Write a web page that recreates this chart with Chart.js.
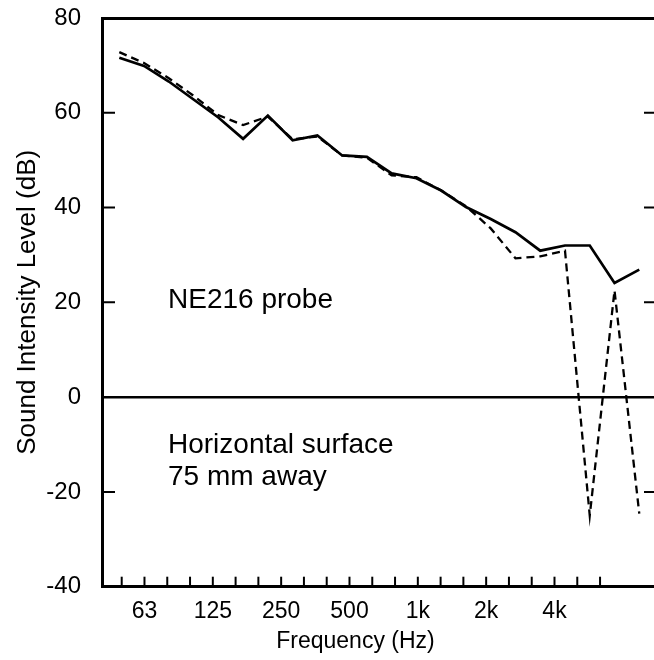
<!DOCTYPE html>
<html>
<head>
<meta charset="utf-8">
<script src="https://cdn.jsdelivr.net/npm/chart.js@4"></script>
<style>
  html, body { margin: 0; padding: 0; overflow: hidden; background: #fff; }
  #wrap { width: 662px; height: 660px; }
</style>
</head>
<body>
<div id="wrap"><canvas id="intensityChart"></canvas></div>
<script>
// one-third octave bands, 50 Hz .. 6.3 kHz
const bandLabels = ["50", "63", "80", "100", "125", "160", "200", "250", "315", "400", "500",
  "630", "800", "1k", "1.25k", "1.6k", "2k", "2.5k", "3.15k", "4k", "5k", "6.3k"];
const shownLabels = ["63", "125", "250", "500", "1k", "2k", "4k"];

// sound intensity level (dB) per band
const solidLevels = [71.6, 69.9, 66.6, 62.8, 59.0, 54.5, 59.4, 54.2, 55.2, 51.0, 50.7,
  47.2, 46.2, 43.6, 40.1, 37.6, 34.8, 30.9, 32.0, 32.0, 24.1, 26.9];
const dashedLevels = [72.8, 70.5, 67.3, 63.6, 59.5, 57.4, 59.2, 54.4, 55.0, 51.0, 50.5,
  46.8, 46.4, 43.6, 40.3, 35.6, 29.3, 29.7, 30.9, -25.0, 22.5, -24.6];

const yTicks = [-40, -20, 0, 20, 40, 60, 80];
const innerTicks = [60, 40, 20, -20];
const notes = ["NE216 probe", "Horizontal surface", "75 mm away"];
const xTitle = "Frequency (Hz)";

const family = "'Liberation Sans', Arial, Helvetica, sans-serif";

// inward tick marks on bottom, left and right
const tickMarks = {
  id: "tickMarks",
  afterDraw(chart) {
    const { ctx, chartArea: a, scales } = chart;
    ctx.save();
    ctx.strokeStyle = "#000";
    ctx.lineWidth = 2;
    bandLabels.forEach((b, i) => {
      const px = scales.x.getPixelForValue(i);
      ctx.beginPath();
      ctx.moveTo(px, a.bottom);
      ctx.lineTo(px, a.bottom - 10);
      ctx.stroke();
    });
    innerTicks.forEach(v => {
      const py = scales.y.getPixelForValue(v);
      ctx.beginPath();
      ctx.moveTo(a.left, py);
      ctx.lineTo(a.left + 13, py);
      ctx.moveTo(a.right, py);
      ctx.lineTo(a.right - 13, py);
      ctx.stroke();
    });
    ctx.restore();
  }
};

// text notes inside the plot + x axis title under the labelled bands
const plotNotes = {
  id: "plotNotes",
  afterDraw(chart) {
    const { ctx, chartArea: a, scales } = chart;
    ctx.save();
    ctx.fillStyle = "#000";
    ctx.font = "28px " + family;
    ctx.textBaseline = "alphabetic";
    ctx.fillText(notes[0], a.left + 66, 308);
    ctx.fillText(notes[1], a.left + 66, 453);
    ctx.fillText(notes[2], a.left + 66, 485);

    const first = scales.x.getPixelForValue(bandLabels.indexOf(shownLabels[0]));
    const last = scales.x.getPixelForValue(bandLabels.indexOf(shownLabels[shownLabels.length - 1]));
    ctx.font = "23px " + family;
    ctx.textAlign = "center";
    ctx.textBaseline = "middle";
    ctx.fillText(xTitle, (first + last) / 2 + 6, 642);
    ctx.restore();
  }
};

const ctx = document.getElementById("intensityChart").getContext("2d");

new Chart(ctx, {
  type: "line",
  data: {
    datasets: [
      {
        label: "solid",
        data: solidLevels.map((v, i) => ({ x: i, y: v })),
        xAxisID: "xd",
        borderColor: "#000",
        borderWidth: 2.7,
        pointRadius: 0,
        tension: 0,
        fill: false,
      },
      {
        label: "dashed",
        data: dashedLevels.map((v, i) => ({ x: i, y: v })),
        xAxisID: "xd",
        borderColor: "#000",
        borderWidth: 2.3,
        borderDash: [8, 5],
        pointRadius: 0,
        tension: 0,
        fill: false,
      },
    ],
  },
  options: {
    responsive: true,
    maintainAspectRatio: false,
    animation: false,
    layout: { padding: { top: 18, right: 5, left: 0, bottom: 0 } },
    plugins: {
      legend: { display: false },
      tooltip: { enabled: false },
    },
    scales: {
      x: {
        type: "linear",
        position: "bottom",
        min: -0.865,
        max: 23.5,
        afterBuildTicks: (s) => {
          s.ticks = bandLabels.map((b, i) => ({ value: i }));
        },
        afterFit: (s) => {
          s.height = 73.3;
          s.paddingLeft = 0;
          s.paddingRight = 0;
        },
        ticks: {
          autoSkip: false,
          maxRotation: 0,
          padding: 11,
          color: "#000",
          font: { family: family, size: 23 },
          callback: (v) => (shownLabels.includes(bandLabels[v]) ? bandLabels[v] : ""),
        },
        grid: { drawTicks: false, drawOnChartArea: false },
        border: { display: true, color: "#000", width: 3 },
        title: { display: false },
      },
      xd: {
        type: "linear",
        display: false,
        min: -0.699,
        max: 21.716,
      },
      y: {
        min: -40,
        max: 80,
        afterBuildTicks: (s) => {
          s.ticks = yTicks.map((v) => ({ value: v }));
        },
        afterFit: (s) => {
          s.width = 102;
          s.paddingTop = 0;
          s.paddingBottom = 0;
        },
        ticks: {
          padding: 21,
          color: "#000",
          font: { family: family, size: 24 },
        },
        grid: {
          drawTicks: false,
          color: (c) => (c.tick && (c.tick.value === 0 || c.tick.value === 80) ? "#000" : "rgba(0,0,0,0)"),
          lineWidth: (c) => (c.tick && c.tick.value === 80 ? 3 : 2.6),
        },
        border: { display: true, color: "#000", width: 3 },
        title: {
          display: true,
          text: "Sound Intensity Level (dB)",
          color: "#000",
          font: { family: family, size: 26 },
          padding: { top: 12, bottom: 0 },
        },
      },
    },
  },
  plugins: [tickMarks, plotNotes],
});
</script>
</body>
</html>
